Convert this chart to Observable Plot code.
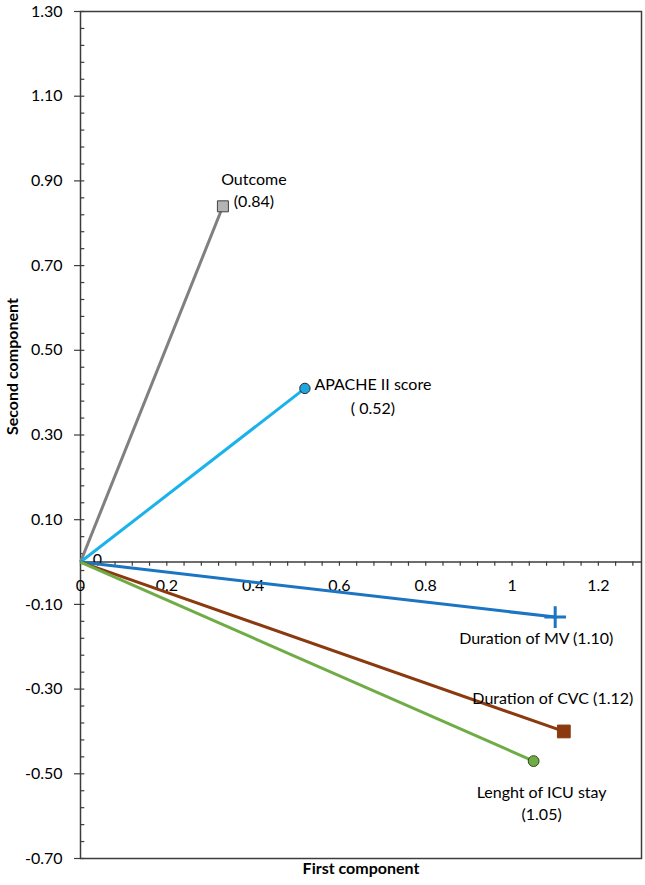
<!DOCTYPE html>
<html><head><meta charset="utf-8">
<script src="https://cdn.jsdelivr.net/npm/d3@7"></script>
<script src="https://cdn.jsdelivr.net/npm/@observablehq/plot@0.6"></script>
<style>body{margin:0;background:#fff;} #chart svg{display:block}</style>
</head><body><div id="chart"></div>
<script>
// ---- data ----
const variables = ["Outcome", "APACHE II score", "Duration of MV", "Duration of CVC", "Lenght of ICU stay"];
const firstComponent = [0.33, 0.52, 1.10, 1.12, 1.05];
const secondComponent = [0.84, 0.41, -0.13, -0.40, -0.47];
const labelLine1 = ["Outcome", "APACHE II score", "Duration of MV (1.10)", "Duration of CVC (1.12)", "Lenght of ICU stay"];
const labelLine2 = ["(0.84)", "( 0.52)", "", "", "(1.05)"];
const xTickValues = [0, 0.2, 0.4, 0.6, 0.8, 1, 1.2];
const xTickLabels = ["0", "0.2", "0.4", "0.6", "0.8", "1", "1.2"];
const yTickValues = [-0.7, -0.5, -0.3, -0.1, 0.1, 0.3, 0.5, 0.7, 0.9, 1.1, 1.3];
const yTickLabels = ["-0.70", "-0.50", "-0.30", "-0.10", "0.10", "0.30", "0.50", "0.70", "0.90", "1.10", "1.30"];
const xTitle = "First component";
const yTitle = "Second component";

// ---- styles ----
const seriesStyle = [
  {line: "#808080", symbol: "square", fill: "#b4b4b4", stroke: "#404040", r: 6.2, sw: 1},
  {line: "#19b2ea", symbol: "circle", fill: "#1da6df", stroke: "#2a2a2a", r: 5.2, sw: 1},
  {line: "#1b75c2", symbol: "plus", fill: "none", stroke: "#1b75c2", r: 7, sw: 3},
  {line: "#8a3a0e", symbol: "square", fill: "#8a3a0e", stroke: "#8a3a0e", r: 7.2, sw: 1},
  {line: "#6fac46", symbol: "circle", fill: "#6fac46", stroke: "#2e4a1c", r: 5.4, sw: 1}
];
const labelOffsets = [
  {dx: 31, dy1: -26, dy2: -4},
  {dx: 68, dy1: -4, dy2: 20},
  {dx: -19, dy1: 22, dy2: 0},
  {dx: -11, dy1: -33, dy2: 0},
  {dx: 8, dy1: 32, dy2: 54}
];
const axisColor = "#3c3c3c";

const xMinor = d3.range(0, 1.29, 0.04);
const yMinor = d3.range(0, 50.5).map(k => -0.7 + k * 0.04);
const idx = d3.range(variables.length);

const marks = [
  Plot.frame({stroke: axisColor, strokeWidth: 1.5}),
  Plot.ruleY([0], {stroke: axisColor, strokeWidth: 1.5}),
  Plot.ruleX(xMinor, {x: d => d, y1: 0, y2: -0.01, stroke: axisColor, strokeWidth: 1.2}),
  Plot.ruleY(yMinor, {y: d => d, x1: 0, x2: 0.01, stroke: axisColor, strokeWidth: 1.2}),
  Plot.axisY({ticks: yTickValues, tickFormat: d => yTickLabels[yTickValues.indexOf(d)], tickSize: 6, tickPadding: 12, stroke: axisColor, strokeWidth: 1.2, fill: "#000", fontSize: 16, label: null}),
  Plot.text(xTickValues, {x: d => d, y: 0, dy: 24, text: (d, i) => xTickLabels[i], fill: "#000", fontSize: 16}),
  Plot.text(["0"], {x: 0, y: 0, dx: 17, dy: -2, text: d => d, fill: "#000", fontSize: 16}),
  Plot.link(idx, {x1: 0, y1: 0, x2: i => firstComponent[i], y2: i => secondComponent[i], stroke: i => seriesStyle[i].line, strokeWidth: 3}),
  Plot.text([xTitle], {frameAnchor: "bottom", dy: 15, text: d => d, fontWeight: "bold", fontSize: 16, fill: "#000"}),
  Plot.text([yTitle], {frameAnchor: "left", dx: -68, rotate: -90, text: d => d, fontWeight: "bold", fontSize: 16, fill: "#000"})
];

idx.forEach(i => {
  const s = seriesStyle[i];
  marks.push(Plot.dot([i], {x: j => firstComponent[j], y: j => secondComponent[j], symbol: s.symbol, r: s.r, fill: s.fill, stroke: s.stroke, strokeWidth: s.sw}));
  const o = labelOffsets[i];
  marks.push(Plot.text([i], {x: j => firstComponent[j], y: j => secondComponent[j], text: j => labelLine1[j], dx: o.dx, dy: o.dy1, fill: "#000", fontSize: 16}));
  if (labelLine2[i]) marks.push(Plot.text([i], {x: j => firstComponent[j], y: j => secondComponent[j], text: j => labelLine2[j], dx: o.dx, dy: o.dy2, fill: "#000", fontSize: 16}));
});

const chart = Plot.plot({
  width: 645,
  height: 885,
  marginLeft: 80,
  marginRight: 4,
  marginTop: 11,
  marginBottom: 27,
  x: {domain: [0, 1.3], axis: null},
  y: {domain: [-0.7, 1.3]},
  color: {type: "identity"},
  style: {fontFamily: "Lato, 'Open Sans', sans-serif", fontSize: "16px", background: "#fff", color: "#000"},
  marks
});
document.getElementById("chart").appendChild(chart);
</script>
</body></html>
